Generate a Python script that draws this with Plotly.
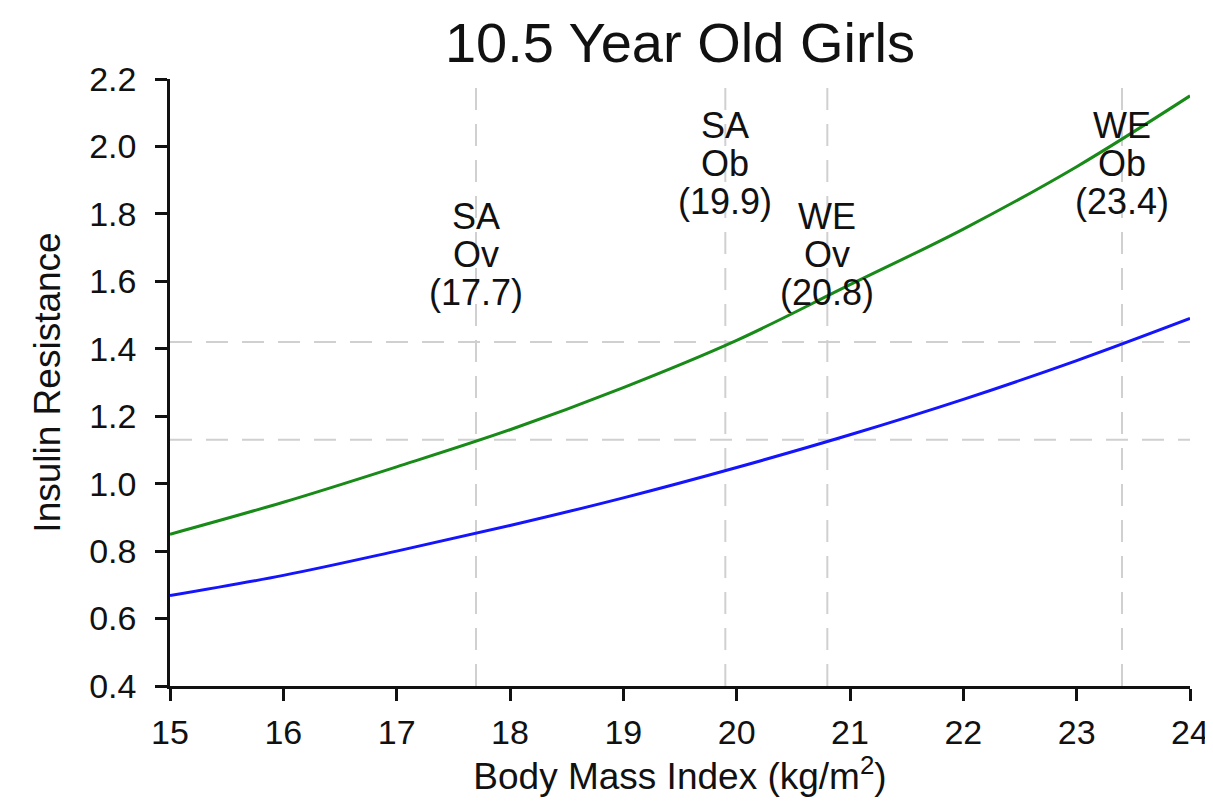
import plotly.graph_objects as go

# Data
bmi = [15, 16, 17, 18, 19, 20, 21, 22, 23, 24]
ir_sa = [0.85, 0.945, 1.05, 1.16, 1.285, 1.425, 1.59, 1.755, 1.94, 2.15]   # green
ir_we = [0.668, 0.728, 0.80, 0.876, 0.958, 1.048, 1.145, 1.25, 1.365, 1.49]  # blue

cutoff_bmi = [17.7, 19.9, 20.8, 23.4]
cutoff_group = ["SA", "SA", "WE", "WE"]
cutoff_class = ["Ov", "Ob", "Ov", "Ob"]
cutoff_ir = [1.13, 1.42]

x_ticks = [15, 16, 17, 18, 19, 20, 21, 22, 23, 24]
y_ticks = [0.4, 0.6, 0.8, 1.0, 1.2, 1.4, 1.6, 1.8, 2.0, 2.2]

FONT = "Liberation Sans, Arial, sans-serif"
label_center_y = {"Ov": 1.68, "Ob": 1.95}
line_step = 0.113

fig = go.Figure()

fig.add_trace(go.Scatter(x=bmi, y=ir_sa, mode="lines", line=dict(color="#178a17", width=3, shape="spline"),
                         showlegend=False, hoverinfo="skip"))
fig.add_trace(go.Scatter(x=bmi, y=ir_we, mode="lines", line=dict(color="#1414ff", width=3, shape="spline"),
                         showlegend=False, hoverinfo="skip"))

shapes = []
for xv in cutoff_bmi:
    shapes.append(dict(type="line", xref="x", yref="y", x0=xv, x1=xv, y0=y_ticks[0], y1=y_ticks[-1],
                       line=dict(color="#d0d0d0", width=2, dash="22px,14px"), layer="below"))
for yv in cutoff_ir:
    shapes.append(dict(type="line", xref="x", yref="y", x0=x_ticks[0], x1=x_ticks[-1], y0=yv, y1=yv,
                       line=dict(color="#d0d0d0", width=2, dash="22px,14px"), layer="below"))

annotations = []
for xv, g, c in zip(cutoff_bmi, cutoff_group, cutoff_class):
    yc = label_center_y[c]
    for i, txt in enumerate([g, c, f"({xv})"]):
        annotations.append(dict(x=xv, y=yc + (1 - i) * line_step, xref="x", yref="y", text=txt,
                                showarrow=False, xanchor="center", yanchor="middle",
                                font=dict(family=FONT, size=36, color="#111111")))

fig.update_layout(
    width=1213, height=809,
    margin=dict(l=162, r=31, t=71, b=131),
    paper_bgcolor="white", plot_bgcolor="white",
    title=dict(text="10.5 Year Old Girls", x=0.554, xanchor="center", y=0.958, yanchor="middle",
               font=dict(family=FONT, size=56, color="#111111")),
    shapes=shapes, annotations=annotations,
    xaxis=dict(range=[15, 24], tickvals=x_ticks, ticktext=[str(t) for t in x_ticks], automargin=False,
               showgrid=False, zeroline=False, showline=True, linecolor="#111111", linewidth=2.5,
               ticks="outside", ticklen=12, tickwidth=2.5, tickcolor="#111111", ticklabelstandoff=2,
               tickfont=dict(family=FONT, size=34, color="#111111"),
               title=dict(text="Body Mass Index (kg/m<sup>2</sup>)", standoff=14,
                          font=dict(family=FONT, size=37, color="#111111"))),
    yaxis=dict(range=[0.4, 2.2], tickvals=y_ticks, ticktext=[f"{t:.1f}" for t in y_ticks], automargin=False,
               showgrid=False, zeroline=False, showline=True, linecolor="#111111", linewidth=2.5,
               ticks="outside", ticklen=12, tickwidth=2.5, tickcolor="#111111", ticklabelstandoff=12,
               tickfont=dict(family=FONT, size=34, color="#111111"),
               title=dict(text="Insulin Resistance", standoff=18,
                          font=dict(family=FONT, size=37, color="#111111"))),
)

fig.write_html("out.html")
